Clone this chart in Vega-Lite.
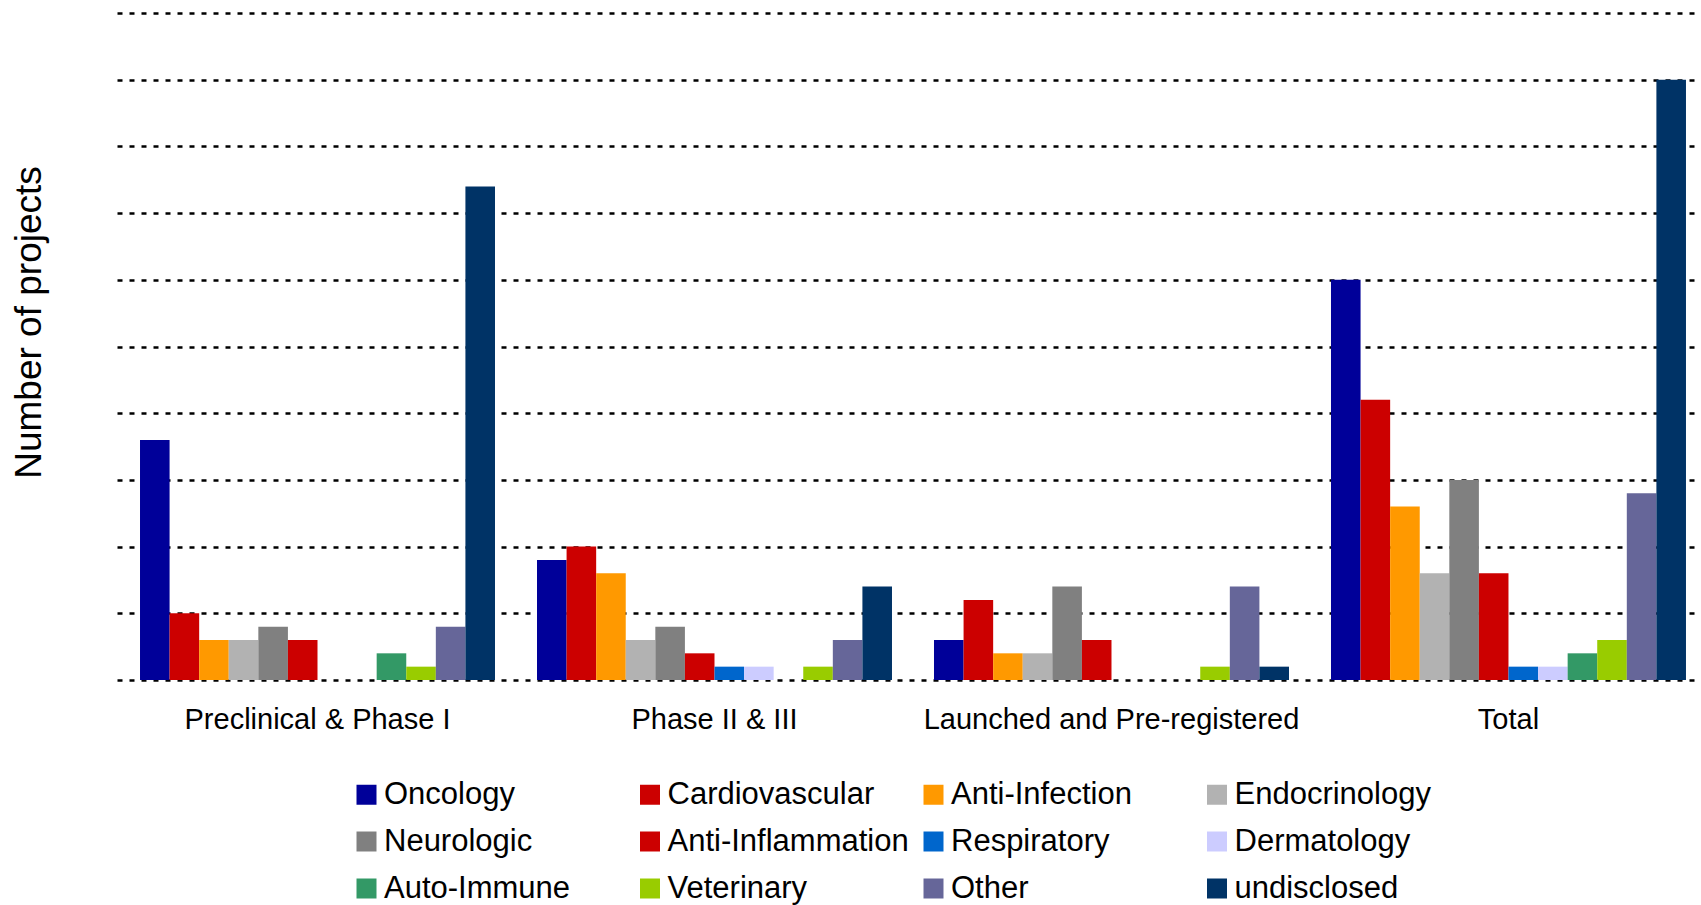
{
  "$schema": "https://vega.github.io/schema/vega-lite/v6.json",
  "autosize": {"type": "none"},
  "padding": {"left": 117, "top": 13, "right": 0, "bottom": 225},
  "width": 1584,
  "height": 667,
  "background": "white",
  "config": {
    "view": {"stroke": null},
    "font": "Liberation Sans"
  },
  "data": {
    "values": [
      {"stage": "Preclinical & Phase I", "area": "Oncology", "n": 18},
      {"stage": "Preclinical & Phase I", "area": "Cardiovascular", "n": 5},
      {"stage": "Preclinical & Phase I", "area": "Anti-Infection", "n": 3},
      {"stage": "Preclinical & Phase I", "area": "Endocrinology", "n": 3},
      {"stage": "Preclinical & Phase I", "area": "Neurologic", "n": 4},
      {"stage": "Preclinical & Phase I", "area": "Anti-Inflammation", "n": 3},
      {"stage": "Preclinical & Phase I", "area": "Respiratory", "n": 0},
      {"stage": "Preclinical & Phase I", "area": "Dermatology", "n": 0},
      {"stage": "Preclinical & Phase I", "area": "Auto-Immune", "n": 2},
      {"stage": "Preclinical & Phase I", "area": "Veterinary", "n": 1},
      {"stage": "Preclinical & Phase I", "area": "Other", "n": 4},
      {"stage": "Preclinical & Phase I", "area": "undisclosed", "n": 37},
      {"stage": "Phase II & III", "area": "Oncology", "n": 9},
      {"stage": "Phase II & III", "area": "Cardiovascular", "n": 10},
      {"stage": "Phase II & III", "area": "Anti-Infection", "n": 8},
      {"stage": "Phase II & III", "area": "Endocrinology", "n": 3},
      {"stage": "Phase II & III", "area": "Neurologic", "n": 4},
      {"stage": "Phase II & III", "area": "Anti-Inflammation", "n": 2},
      {"stage": "Phase II & III", "area": "Respiratory", "n": 1},
      {"stage": "Phase II & III", "area": "Dermatology", "n": 1},
      {"stage": "Phase II & III", "area": "Auto-Immune", "n": 0},
      {"stage": "Phase II & III", "area": "Veterinary", "n": 1},
      {"stage": "Phase II & III", "area": "Other", "n": 3},
      {"stage": "Phase II & III", "area": "undisclosed", "n": 7},
      {"stage": "Launched and Pre-registered", "area": "Oncology", "n": 3},
      {"stage": "Launched and Pre-registered", "area": "Cardiovascular", "n": 6},
      {"stage": "Launched and Pre-registered", "area": "Anti-Infection", "n": 2},
      {"stage": "Launched and Pre-registered", "area": "Endocrinology", "n": 2},
      {"stage": "Launched and Pre-registered", "area": "Neurologic", "n": 7},
      {"stage": "Launched and Pre-registered", "area": "Anti-Inflammation", "n": 3},
      {"stage": "Launched and Pre-registered", "area": "Respiratory", "n": 0},
      {"stage": "Launched and Pre-registered", "area": "Dermatology", "n": 0},
      {"stage": "Launched and Pre-registered", "area": "Auto-Immune", "n": 0},
      {"stage": "Launched and Pre-registered", "area": "Veterinary", "n": 1},
      {"stage": "Launched and Pre-registered", "area": "Other", "n": 7},
      {"stage": "Launched and Pre-registered", "area": "undisclosed", "n": 1},
      {"stage": "Total", "area": "Oncology", "n": 30},
      {"stage": "Total", "area": "Cardiovascular", "n": 21},
      {"stage": "Total", "area": "Anti-Infection", "n": 13},
      {"stage": "Total", "area": "Endocrinology", "n": 8},
      {"stage": "Total", "area": "Neurologic", "n": 15},
      {"stage": "Total", "area": "Anti-Inflammation", "n": 8},
      {"stage": "Total", "area": "Respiratory", "n": 1},
      {"stage": "Total", "area": "Dermatology", "n": 1},
      {"stage": "Total", "area": "Auto-Immune", "n": 2},
      {"stage": "Total", "area": "Veterinary", "n": 3},
      {"stage": "Total", "area": "Other", "n": 14},
      {"stage": "Total", "area": "undisclosed", "n": 45}
    ]
  },
  "mark": {"type": "bar"},
  "encoding": {
    "x": {
      "field": "stage",
      "type": "nominal",
      "sort": ["Preclinical & Phase I", "Phase II & III", "Launched and Pre-registered", "Total"],
      "scale": {"paddingInner": 0.1058, "paddingOuter": 0.0479, "align": 0.605},
      "axis": {
        "title": null,
        "labelAngle": 0,
        "ticks": false,
        "domain": false,
        "labelFontSize": 29,
        "labelColor": "black",
        "labelPadding": 25,
        "labelLimit": 1000,
        "grid": false
      }
    },
    "xOffset": {
      "field": "area",
      "type": "nominal",
      "sort": ["Oncology", "Cardiovascular", "Anti-Infection", "Endocrinology", "Neurologic", "Anti-Inflammation", "Respiratory", "Dermatology", "Auto-Immune", "Veterinary", "Other", "undisclosed"],
      "scale": {"paddingInner": 0, "paddingOuter": 0}
    },
    "y": {
      "field": "n",
      "type": "quantitative",
      "scale": {"domain": [0, 50], "nice": false},
      "axis": {
        "title": "Number of projects",
        "titleFontSize": 37,
        "titleFontWeight": "normal",
        "titleColor": "black",
        "titleX": -88,
        "titleY": 309,
        "titleAngle": -90,
        "titleAlign": "center",
        "titleBaseline": "middle",
        "labels": false,
        "ticks": false,
        "domain": false,
        "values": [0, 5, 10, 15, 20, 25, 30, 35, 40, 45, 50],
        "grid": true,
        "gridColor": "black",
        "gridWidth": 2.5,
        "gridDash": [5, 7],
        "gridOpacity": 1
      }
    },
    "color": {
      "field": "area",
      "type": "nominal",
      "scale": {
        "domain": ["Oncology", "Cardiovascular", "Anti-Infection", "Endocrinology", "Neurologic", "Anti-Inflammation", "Respiratory", "Dermatology", "Auto-Immune", "Veterinary", "Other", "undisclosed"],
        "range": ["#000099", "#CC0000", "#FF9900", "#B2B2B2", "#808080", "#CC0000", "#0066CC", "#CCCCFF", "#339966", "#99CC00", "#666699", "#003366"]
      },
      "legend": {
        "title": null,
        "orient": "none",
        "direction": "horizontal",
        "columns": 4,
        "gridAlign": "all",
        "legendX": 234,
        "legendY": 766,
        "padding": 0,
        "symbolType": "square",
        "symbolSize": 400,
        "symbolStrokeWidth": 0,
        "symbolOpacity": 1,
        "labelFontSize": 31,
        "labelColor": "black",
        "labelOffset": 2,
        "labelLimit": 400,
        "columnPadding": 8.5,
        "rowPadding": 15
      }
    }
  }
}
